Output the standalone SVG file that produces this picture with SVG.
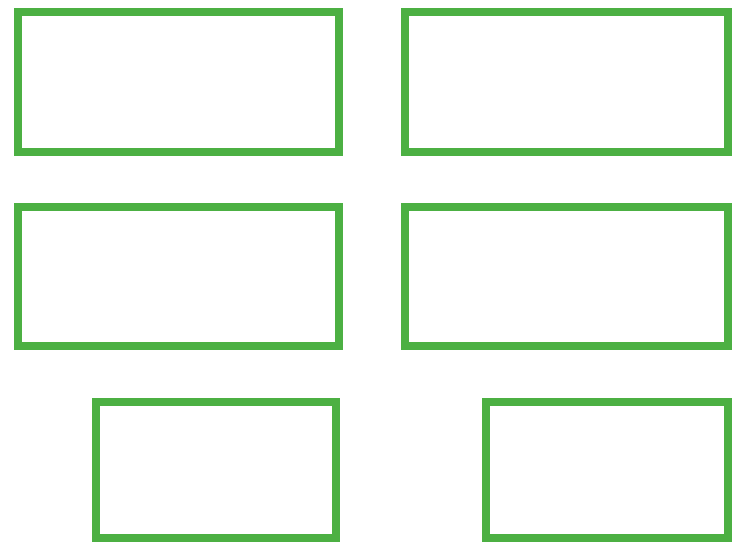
<svg xmlns="http://www.w3.org/2000/svg" width="736" height="554" viewBox="0 0 736 554">
<style>
.box{fill:#ffffff;stroke:#4cb043;stroke-width:8}
</style>
<rect width="736" height="554" fill="#ffffff"/>
<g id="node1"><rect class="box" x="18" y="12" width="321" height="140"/></g>
<g id="node2"><rect class="box" x="405" y="12" width="323" height="140"/></g>
<g id="node3"><rect class="box" x="18" y="207" width="321" height="139"/></g>
<g id="node4"><rect class="box" x="405" y="207" width="323" height="139"/></g>
<g id="node5"><rect class="box" x="96" y="402" width="240" height="136"/></g>
<g id="node6"><rect class="box" x="486" y="402" width="242" height="136"/></g>
<g id="connectors"></g>
</svg>
